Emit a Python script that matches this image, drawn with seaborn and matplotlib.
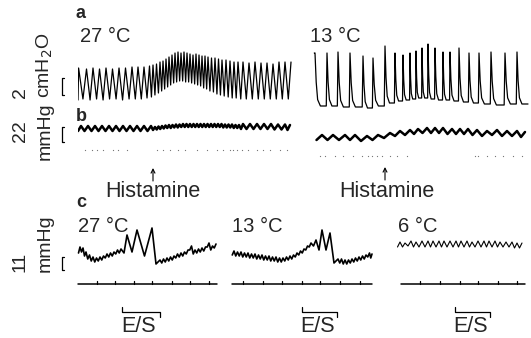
import numpy as np
import pandas as pd
import matplotlib
matplotlib.use('Agg')
import matplotlib.pyplot as plt
import seaborn as sns

# ---- panel a : ventilation traces (time / level in trace units) ----
a27_t = [0.6, 8.5, 15, 21.5, 28, 34.5, 41, 47.5, 54, 60, 66, 71.5,
         75, 78.5, 82, 85, 88, 91, 94, 97, 100, 103, 106, 109, 112, 115, 118, 121, 124, 127,
         130, 133.5, 137, 140.5, 144, 148, 152, 156, 160,
         165, 171, 177, 183, 189, 195, 201, 207, 213]
a27_hi = [37, 36, 37, 36, 37, 36, 37, 37, 38, 38, 38, 39,
          40, 41, 43, 44, 46, 48, 50, 52, 53, 52, 53, 52, 51, 50, 51, 50, 49, 49,
          48, 47, 47, 46, 45, 45, 44, 43, 43,
          43, 42, 43, 42, 42, 41, 43, 43, 43]
a27_lo = [5, 6, 5, 6, 5, 6, 6, 5, 6, 6, 6, 7,
          8, 10, 12, 14, 16, 18, 20, 22, 23, 24, 24, 23, 23, 22, 21, 20, 19, 17,
          16, 14, 13, 11, 10, 9, 8, 7, 7,
          6, 6, 6, 6, 6, 6, 6, 6, 6]

a13_t = [3, 15, 26, 38, 51, 61, 73, 83, 91, 98, 104, 110, 116, 123, 131, 138, 147, 157, 167, 179, 193, 205]
a13_hi = [57, 57, 58, 57, 54, 52, 64, 57, 55, 57, 59, 62, 66, 62, 58, 58, 62, 57, 57, 58, 57, 58]
a13_lo = [57, 4, 4, 3, 3, 2, 4, 7, 9, 10, 11, 12, 12, 11, 10, 10, 9, 8, 7, 6, 5, 6]
a13_end = [216, 6]

# ---- panel b : blood pressure traces ----
b27_t = [3, 10, 17, 24, 31, 38, 45, 52, 59, 66, 73,
         77, 80.5, 84, 87.5, 91, 94.5, 98, 101.5, 105, 108.5, 112, 115.5, 119, 122.5, 126,
         129.5, 133, 136.5, 140, 143.5, 147, 150.5, 154, 157.5, 161,
         165, 172, 179, 186, 193, 200, 207, 212]
b27_hi = [32, 32, 32, 32, 32, 32, 32, 32, 32, 32, 32,
          31, 31.5, 32, 32.5, 33, 33, 33.5, 33.5, 34, 34, 34, 34, 34, 34, 34,
          34, 34, 34, 34, 34, 33.5, 33.5, 33.5, 33, 33,
          34, 34, 34, 34, 34, 33.5, 33.5, 33]
b27_lo = [27, 27, 27, 27, 27, 27, 27, 27, 27, 27, 27,
          28, 28.5, 29, 29.5, 30, 30, 30.5, 30.5, 31, 31, 31, 31, 31, 31, 31,
          31, 31, 31, 31, 31, 30.5, 30.5, 30.5, 30, 30,
          29, 29, 29, 29, 29, 28.5, 28.5, 28]
b27_marks = [7, 14, 19, 25, 35, 40, 49, 79, 85, 92, 100, 107, 119, 129, 139, 145,
             152, 155, 159, 164, 170, 179, 185, 192, 202, 209]

b13_t = [10, 21, 33, 43, 55, 66, 78, 88, 98, 106, 115, 123, 131, 140, 148, 156, 165, 175, 185, 195, 205, 213]
b13_hi = [25, 25, 25, 25, 24, 25, 27, 29, 30, 31, 32, 32, 32, 31, 31, 31, 30, 29, 30, 29, 29, 28]
b13_lo = [20, 20, 20, 20, 19, 20, 22, 24, 25, 26, 27, 27, 27, 26, 26, 26, 25, 24, 25, 24, 24, 23]
b13_marks = [8, 13, 23, 31, 41, 50, 56, 60, 65, 70, 78, 85, 95, 163, 166, 175, 183, 191, 201, 210]

histamine_t = [75, 73]

# ---- panel c : blood pressure at three temperatures ----
c27_t = [4, 7, 10, 13.5, 17, 20.5, 24, 27.5, 31, 34.5, 38, 41.5, 45, 51, 61, 76,
         84, 87.5, 91, 94.5, 98, 101.5, 105, 108.5, 112, 115.5, 119, 122.5, 126, 129.5, 133, 136.5, 140]
c27_hi = [43, 42, 38, 35, 33, 32, 33, 34, 36, 37, 38, 40, 41, 55, 60, 62,
          30, 31, 32, 33, 34, 36, 37, 38, 40, 44, 40, 41, 42, 43, 47, 44, 46]
c27_lo = [37, 38, 34, 31, 29, 28, 29, 30, 32, 33, 34, 36, 37, 37, 38, 34,
          26, 27, 28, 29, 30, 32, 33, 34, 36, 40, 36, 37, 38, 39, 43, 40, 42]

c13_t = [4, 7.5, 11, 14.5, 18, 21.5, 25, 28.5, 32, 35.5, 39, 42.5, 46, 49.5, 53, 56.5, 60, 63.5,
         67, 70.5, 74, 77.5, 81, 86, 92, 100, 108, 111.5, 115, 118.5, 122, 125.5, 129, 132.5, 136, 139.5, 142]
c13_hi = [39, 38, 38, 37, 37, 36, 36, 35, 35, 34, 34, 33, 33, 32, 32, 33, 34, 35,
          37, 39, 41, 44, 47, 50, 60, 57, 31, 31, 30, 30, 31, 32, 33, 34, 35, 37, 36]
c13_lo = [35, 34, 34, 33, 33, 32, 32, 31, 31, 30, 30, 29, 29, 28, 28, 29, 30, 31,
          33, 35, 37, 40, 43, 44, 40, 40, 27, 27, 26, 26, 27, 28, 29, 30, 31, 33, 32]

c6_t = [4, 9, 15, 20, 26, 32, 37, 43, 48, 54, 60, 65, 71, 76, 82, 88, 93, 99, 104, 110, 116, 121, 126]
c6_hi = [48, 47, 49, 48, 49, 49, 49, 49, 49, 49, 49, 49, 49, 48, 49, 49, 49, 49, 48, 48, 48, 47, 47]
c6_lo = [43, 43, 44, 43, 43, 43, 43, 43, 43, 43, 43, 43, 43, 43, 43, 43, 43, 43, 43, 43, 43, 42, 42]

c_ticks = [[21, 39, 58, 76, 96, 114, 133],
           [13, 33, 52, 72, 90, 110, 130],
           [24, 44, 64, 82, 102, 121]]
c_base_span = [[2, 141], [2, 142], [5, 129]]
es_span = [[46, 84], [72, 107], [59, 94]]
c_labels = ['27 °C', '13 °C', '6 °C']

W, H = 531, 338
sns.set_style('white')
plt.rcParams['font.family'] = ['Liberation Sans', 'DejaVu Sans']
fig = plt.figure(figsize=(W / 100, H / 100), dpi=100)
fig.patch.set_facecolor('white')


def px_ax(left, top, width, height):
    ax = fig.add_axes([left / W, 1 - (top + height) / H, width / W, height / H])
    ax.set_xlim(0, width)
    ax.set_ylim(0, height)
    ax.axis('off')
    return ax


def ftext(x, y, s, **kw):
    fig.text(x / W, 1 - y / H, s, **kw)


def wave(t, hi, lo, rise=0.5, spike=False, end=None):
    # joins each trough -> peak; spike=True gives a fast rise and a decaying fall
    xs, ys = [], []
    nxt_t = list(t[1:]) + ([end[0]] if end is not None else [])
    nxt_lo = list(lo[1:]) + ([end[1]] if end is not None else [])
    for i in range(len(t)):
        gap = t[i] - t[i - 1] if i > 0 else t[1] - t[0]
        x0 = t[i] - rise * gap if i > 0 else max(t[i] - rise * gap, 0)
        xs += [x0, t[i]]
        ys += [lo[i], hi[i]]
        if spike and i < len(nxt_t):
            nxt = min(nxt_t[i] - t[i], 12)
            drop = hi[i] - nxt_lo[i]
            xs += [t[i] + 0.1 * nxt, t[i] + 0.22 * nxt, t[i] + 0.45 * nxt]
            ys += [nxt_lo[i] + 0.45 * drop, nxt_lo[i] + 0.12 * drop, nxt_lo[i]]
    if end is not None:
        xs.append(end[0])
        ys.append(end[1])
    return pd.DataFrame({'t': xs, 'v': ys})


def trace(ax, df, lw):
    sns.lineplot(data=df, x='t', y='v', sort=False, estimator=None,
                 color='black', linewidth=lw, ax=ax)
    ax.set_xlabel('')
    ax.set_ylabel('')


def bracket(ax, x, v0, v1):
    ax.plot([x + 2, x, x, x + 2], [v0, v0, v1, v1], color='black', lw=0.9, clip_on=False)


# panel a
ax = px_ax(78, 35, 215, 70)
trace(ax, wave(a27_t, a27_hi, a27_lo, rise=0.45), 0.9)
bracket(ax, -16, 10, 27)
ax = px_ax(312, 35, 219, 75)
trace(ax, wave(a13_t, a13_hi, a13_lo, rise=0.06, spike=True, end=a13_end), 0.9)

# panel b
ax = px_ax(78, 118, 215, 40)
trace(ax, wave(b27_t, b27_hi, b27_lo), 1.8)
sns.scatterplot(x=b27_marks, y=[8] * len(b27_marks), s=0.8, color='0.45', linewidth=0, ax=ax)
bracket(ax, -16, 16, 31)
ax.annotate('', xy=(histamine_t[0], -10), xytext=(histamine_t[0], -23),
            arrowprops=dict(arrowstyle='->', lw=0.8, color='black', shrinkA=0, shrinkB=0,
                            mutation_scale=7), annotation_clip=False)
ax.text(histamine_t[0], -39, 'Histamine', ha='center', va='baseline', fontsize=15.5, clip_on=False)

ax = px_ax(312, 118, 219, 42)
trace(ax, wave(b13_t, b13_hi, b13_lo), 1.8)
sns.scatterplot(x=b13_marks, y=[4] * len(b13_marks), s=0.8, color='0.45', linewidth=0, ax=ax)
ax.annotate('', xy=(histamine_t[1], -7), xytext=(histamine_t[1], -20),
            arrowprops=dict(arrowstyle='->', lw=0.8, color='black', shrinkA=0, shrinkB=0,
                            mutation_scale=7), annotation_clip=False)
ax.text(histamine_t[1] + 2, -37, 'Histamine', ha='center', va='baseline', fontsize=15.5, clip_on=False)

# panel c
c_data = [(c27_t, c27_hi, c27_lo, 1.2), (c13_t, c13_hi, c13_lo, 1.2), (c6_t, c6_hi, c6_lo, 0.8)]
c_left = [76, 230, 396]
for k in range(3):
    ax = px_ax(c_left[k], 220, 145, 70)
    t, hi, lo, lw = c_data[k]
    trace(ax, wave(t, hi, lo), lw)
    ax.plot(c_base_span[k], [6, 6], color='black', lw=1.1)
    for tk in c_ticks[k]:
        ax.plot([tk, tk], [6, 9], color='black', lw=0.9)
    e0, e1 = es_span[k]
    ax.plot([e0, e0, e1, e1], [-17, -22, -22, -27], color='black', lw=0.9, clip_on=False)
    ax.text((e0 + e1) / 2 - 2, -42, 'E/S', ha='center', va='baseline', fontsize=15.5, clip_on=False)
    ax.text(2, 58, c_labels[k], ha='left', va='baseline', fontsize=14.5, clip_on=False)
    if k == 0:
        bracket(ax, -14, 20, 33)

# labels
ftext(76, 18, 'a', fontsize=13, fontweight='bold', va='baseline')
ftext(76, 121, 'b', fontsize=13, fontweight='bold', va='baseline')
ftext(76, 207, 'c', fontsize=13, fontweight='bold', va='baseline')
ftext(80, 42, '27 °C', fontsize=14.5, va='baseline')
ftext(310, 42, '13 °C', fontsize=14.5, va='baseline')

ftext(20, 98, '2', fontsize=14, rotation=90, ha='center', va='bottom')
ftext(45, 98, 'cmH$_2$O', fontsize=14, rotation=90, ha='center', va='bottom')
ftext(20, 131, '22', fontsize=14, rotation=90, ha='center', va='center')
ftext(45, 131, 'mmHg', fontsize=14, rotation=90, ha='center', va='center')
ftext(20, 272, '11', fontsize=14, rotation=90, ha='center', va='bottom')
ftext(45, 272, 'mmHg', fontsize=14, rotation=90, ha='center', va='bottom')

fig.savefig('out.png', dpi=100, facecolor='white')
